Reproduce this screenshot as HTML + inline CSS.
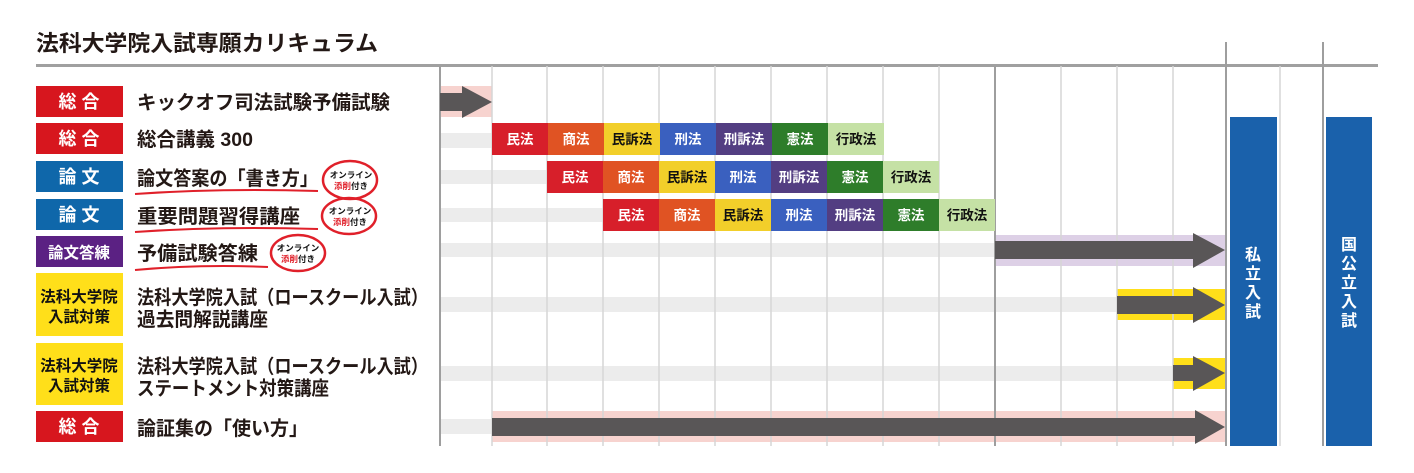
<!DOCTYPE html>
<html><head><meta charset="utf-8"><style>
html,body{margin:0;padding:0;background:#fff;width:1414px;height:473px;overflow:hidden}
svg{display:block}
text{font-family:"Liberation Sans","Noto Sans CJK JP",sans-serif;font-weight:bold}
</style></head><body>
<svg width="1414" height="473" viewBox="0 0 1414 473" xmlns="http://www.w3.org/2000/svg">
<text x="36" y="51" font-size="22" fill="#231815" textLength="342" lengthAdjust="spacingAndGlyphs">法科大学院入試専願カリキュラム</text>
<!-- bands -->
<rect x="440" y="86" width="52" height="31" fill="#f7d3cf"/>
<rect x="440" y="133" width="52" height="15" fill="#ececec"/>
<rect x="440" y="170" width="107" height="14" fill="#ececec"/>
<rect x="440" y="208" width="163" height="14" fill="#ececec"/>
<rect x="440" y="243" width="555" height="14" fill="#ececec"/>
<rect x="995" y="235" width="230" height="31" fill="#ddd0e6"/>
<rect x="440" y="297" width="677" height="15" fill="#ececec"/>
<rect x="1117" y="289" width="108" height="31" fill="#ffdf1a"/>
<rect x="440" y="366" width="733" height="15" fill="#ececec"/>
<rect x="1173" y="358" width="52" height="31" fill="#ffdf1a"/>
<rect x="440" y="419" width="52" height="15" fill="#ececec"/>
<rect x="492" y="411" width="733" height="31" fill="#f7d3cf"/>
<!-- grid -->
<line x1="36" y1="65.5" x2="1378" y2="65.5" stroke="#a0a0a0" stroke-width="3"/>
<g stroke="#d6d6d6" stroke-width="1.5">
<line x1="492" y1="66" x2="492" y2="446"/><line x1="547" y1="66" x2="547" y2="446"/><line x1="603" y1="66" x2="603" y2="446"/><line x1="659" y1="66" x2="659" y2="446"/><line x1="715" y1="66" x2="715" y2="446"/><line x1="771" y1="66" x2="771" y2="446"/><line x1="827" y1="66" x2="827" y2="446"/><line x1="883" y1="66" x2="883" y2="446"/><line x1="939" y1="66" x2="939" y2="446"/><line x1="1061" y1="66" x2="1061" y2="446"/><line x1="1117" y1="66" x2="1117" y2="446"/><line x1="1173" y1="66" x2="1173" y2="446"/><line x1="1280" y1="66" x2="1280" y2="446"/>
</g>
<g stroke="#9e9e9e" stroke-width="2">
<line x1="440" y1="66" x2="440" y2="446"/><line x1="995" y1="66" x2="995" y2="446"/><line x1="1226" y1="42" x2="1226" y2="446"/><line x1="1323" y1="42" x2="1323" y2="446"/>
</g>
<!-- arrows -->
<g fill="#595657">
<polygon points="440,93 462,93 462,86 492,102 462,118 462,111 440,111"/>
<polygon points="995,241 1193,241 1193,233 1225,250 1193,268 1193,259 995,259"/>
<polygon points="1117,296 1193,296 1193,287 1225,305 1193,323 1193,314 1117,314"/>
<polygon points="1173,365 1193,365 1193,356 1225,373 1193,391 1193,381 1173,381"/>
<polygon points="492,418 1195,418 1195,410 1225,427 1195,444 1195,436 492,436"/>
</g>
<!-- lessons -->
<g font-size="13.5" text-anchor="middle">
<g transform="translate(492,123)">
<rect x="0" width="56" height="32" fill="#d71f2a"/><text x="28" y="21" fill="#fff">民法</text>
<rect x="56" width="56" height="32" fill="#e05323"/><text x="84" y="21" fill="#fff">商法</text>
<rect x="112" width="56" height="32" fill="#f2cf2a"/><text x="140" y="21" fill="#111">民訴法</text>
<rect x="168" width="56" height="32" fill="#3a60bf"/><text x="196" y="21" fill="#fff">刑法</text>
<rect x="224" width="56" height="32" fill="#533e82"/><text x="252" y="21" fill="#fff">刑訴法</text>
<rect x="280" width="56" height="32" fill="#2e7d2a"/><text x="308" y="21" fill="#fff">憲法</text>
<rect x="336" width="56" height="32" fill="#c5e1a5"/><text x="364" y="21" fill="#111">行政法</text>
</g>
<g transform="translate(547,161)">
<rect x="0" width="56" height="32" fill="#d71f2a"/><text x="28" y="21" fill="#fff">民法</text>
<rect x="56" width="56" height="32" fill="#e05323"/><text x="84" y="21" fill="#fff">商法</text>
<rect x="112" width="56" height="32" fill="#f2cf2a"/><text x="140" y="21" fill="#111">民訴法</text>
<rect x="168" width="56" height="32" fill="#3a60bf"/><text x="196" y="21" fill="#fff">刑法</text>
<rect x="224" width="56" height="32" fill="#533e82"/><text x="252" y="21" fill="#fff">刑訴法</text>
<rect x="280" width="56" height="32" fill="#2e7d2a"/><text x="308" y="21" fill="#fff">憲法</text>
<rect x="336" width="56" height="32" fill="#c5e1a5"/><text x="364" y="21" fill="#111">行政法</text>
</g>
<g transform="translate(603,199)">
<rect x="0" width="56" height="32" fill="#d71f2a"/><text x="28" y="21" fill="#fff">民法</text>
<rect x="56" width="56" height="32" fill="#e05323"/><text x="84" y="21" fill="#fff">商法</text>
<rect x="112" width="56" height="32" fill="#f2cf2a"/><text x="140" y="21" fill="#111">民訴法</text>
<rect x="168" width="56" height="32" fill="#3a60bf"/><text x="196" y="21" fill="#fff">刑法</text>
<rect x="224" width="56" height="32" fill="#533e82"/><text x="252" y="21" fill="#fff">刑訴法</text>
<rect x="280" width="56" height="32" fill="#2e7d2a"/><text x="308" y="21" fill="#fff">憲法</text>
<rect x="336" width="56" height="32" fill="#c5e1a5"/><text x="364" y="21" fill="#111">行政法</text>
</g>
</g>
<!-- exam bars -->
<rect x="1230" y="117" width="47" height="329" fill="#1a61ab"/>
<rect x="1326" y="117" width="46" height="329" fill="#1a61ab"/>
<g font-size="16" fill="#fff" text-anchor="middle">
<text x="1253" y="260">私</text><text x="1253" y="279">立</text><text x="1253" y="298">入</text><text x="1253" y="317">試</text>
<text x="1349" y="250">国</text><text x="1349" y="269">公</text><text x="1349" y="288">立</text><text x="1349" y="307">入</text><text x="1349" y="326">試</text>
</g>
<!-- left tags -->
<rect x="36" y="86" width="87" height="31" fill="#d7161e"/>
<rect x="36" y="123" width="87" height="31" fill="#d7161e"/>
<rect x="36" y="161" width="87" height="31" fill="#0f67aa"/>
<rect x="36" y="199" width="87" height="31" fill="#0f67aa"/>
<rect x="36" y="236" width="87" height="31" fill="#5b2183"/>
<rect x="36" y="273" width="87" height="63" fill="#ffdf1a"/>
<rect x="36" y="343" width="87" height="62" fill="#ffdf1a"/>
<rect x="36" y="411" width="87" height="31" fill="#d7161e"/>
<g font-size="18" fill="#fff" text-anchor="middle">
<text x="79" y="108">総 合</text><text x="79" y="145">総 合</text><text x="79" y="183">論 文</text><text x="79" y="221">論 文</text><text x="79" y="433">総 合</text>
<text x="79" y="258" font-size="15.5">論文答練</text>
</g>
<g font-size="15.5" fill="#111" text-anchor="middle">
<text x="79" y="302">法科大学院</text><text x="79" y="322">入試対策</text>
<text x="79" y="371">法科大学院</text><text x="79" y="391">入試対策</text>
</g>
<!-- titles -->
<g font-size="19.5" fill="#231815" lengthAdjust="spacingAndGlyphs">
<text x="137" y="109" textLength="253" lengthAdjust="spacingAndGlyphs">キックオフ司法試験予備試験</text>
<text x="137" y="146">総合講義 300</text>
<text x="137" y="185" textLength="181" lengthAdjust="spacingAndGlyphs">論文答案の「書き方」</text>
<text x="137" y="223" textLength="163" lengthAdjust="spacingAndGlyphs">重要問題習得講座</text>
<text x="137" y="260" textLength="121" lengthAdjust="spacingAndGlyphs">予備試験答練</text>
<text x="137" y="304" textLength="291" lengthAdjust="spacingAndGlyphs">法科大学院入試（ロースクール入試）</text>
<text x="137" y="326" textLength="131" lengthAdjust="spacingAndGlyphs">過去問解説講座</text>
<text x="137" y="373" textLength="291" lengthAdjust="spacingAndGlyphs">法科大学院入試（ロースクール入試）</text>
<text x="137" y="395" textLength="192" lengthAdjust="spacingAndGlyphs">ステートメント対策講座</text>
<text x="137" y="435" textLength="171" lengthAdjust="spacingAndGlyphs">論証集の「使い方」</text>
</g>
<!-- underlines -->
<g stroke="#e0202a" stroke-width="2" fill="none">
<path d="M135,194 Q220,188 318,191"/>
<path d="M135,232 Q220,226 318,229"/>
<path d="M135,270 Q200,264 268,267"/>
</g>
<!-- badges -->
<g fill="none" stroke="#e0202a" stroke-width="2.5">
<ellipse cx="350" cy="180" rx="27" ry="19"/>
<ellipse cx="349" cy="216" rx="27" ry="18"/>
<ellipse cx="298" cy="253" rx="27" ry="18"/>
</g>
<g font-size="8.5" text-anchor="middle" fill="#111">
<text x="351" y="178">オンライン</text><text x="351" y="189"><tspan fill="#e0202a">添削</tspan>付き</text>
<text x="350" y="214">オンライン</text><text x="350" y="225"><tspan fill="#e0202a">添削</tspan>付き</text>
<text x="298" y="251">オンライン</text><text x="298" y="262"><tspan fill="#e0202a">添削</tspan>付き</text>
</g>
</svg>
</body></html>
